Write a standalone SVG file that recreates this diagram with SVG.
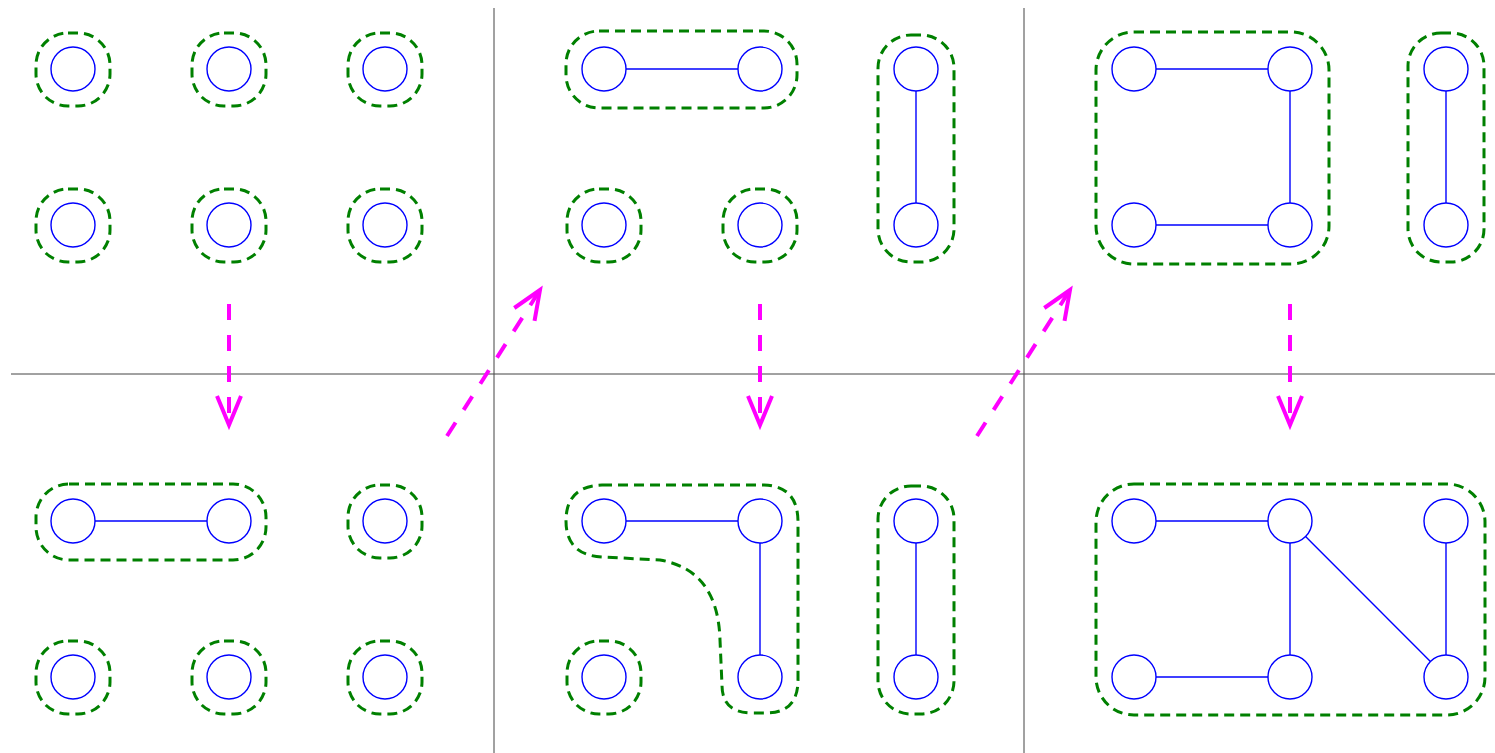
<svg xmlns="http://www.w3.org/2000/svg" width="1495" height="753" viewBox="0 0 1495 753">
<style>
.n{fill:#fff;stroke:#0000ff;stroke-width:1.4}
.e{stroke:#0000ff;stroke-width:1.4;fill:none}
.b{fill:none;stroke:#008000;stroke-width:3;stroke-dasharray:10 6}
.s{rx:33px}
.a{fill:none;stroke:#ff00ff;stroke-width:4;stroke-dasharray:16 15}
.g{stroke:#444;stroke-width:1}
</style>
<defs>
<marker id="ah" markerUnits="userSpaceOnUse" markerWidth="40" markerHeight="40" viewBox="-34 -20 40 40" refX="0" refY="0" orient="auto" overflow="visible">
<path d="M-29,-12 L0,0 L-29,12" fill="none" stroke="#ff00ff" stroke-width="4"/>
</marker>
</defs>
<g id="grid">
<line class="g" x1="11" y1="374" x2="1495" y2="374"/>
<line class="g" x1="494" y1="8" x2="494" y2="753"/>
<line class="g" x1="1024" y1="8" x2="1024" y2="753"/>
</g>
<g id="connectors">
<line class="e" x1="95" y1="521" x2="207" y2="521"/>
<line class="e" x1="626" y1="69" x2="738" y2="69"/>
<line class="e" x1="916" y1="91" x2="916" y2="203"/>
<line class="e" x1="626" y1="521" x2="738" y2="521"/>
<line class="e" x1="760" y1="543" x2="760" y2="655"/>
<line class="e" x1="916" y1="543" x2="916" y2="655"/>
<line class="e" x1="1156" y1="69" x2="1268" y2="69"/>
<line class="e" x1="1156" y1="225" x2="1268" y2="225"/>
<line class="e" x1="1290" y1="91" x2="1290" y2="203"/>
<line class="e" x1="1446" y1="91" x2="1446" y2="203"/>
<line class="e" x1="1156" y1="521" x2="1268" y2="521"/>
<line class="e" x1="1156" y1="677" x2="1268" y2="677"/>
<line class="e" x1="1290" y1="543" x2="1290" y2="655"/>
<line class="e" x1="1446" y1="543" x2="1446" y2="655"/>
<line class="e" x1="1305.6" y1="536.6" x2="1430.4" y2="661.4"/>
<line class="a" x1="229" y1="304" x2="229" y2="425" marker-end="url(#ah)"/>
<line class="a" x1="760" y1="304" x2="760" y2="425" marker-end="url(#ah)"/>
<line class="a" x1="1290" y1="304" x2="1290" y2="425" marker-end="url(#ah)"/>
<line class="a" x1="447" y1="436" x2="540" y2="290" marker-end="url(#ah)"/>
<line class="a" x1="977" y1="436" x2="1070" y2="290" marker-end="url(#ah)"/>
</g>
<g id="blobs">
<rect class="b" x="36" y="33" width="74" height="73" rx="32"/>
<rect class="b" x="192" y="33" width="74" height="73" rx="32"/>
<rect class="b" x="348" y="33" width="74" height="73" rx="32"/>
<rect class="b" x="36" y="189" width="74" height="73" rx="32"/>
<rect class="b" x="192" y="189" width="74" height="73" rx="32"/>
<rect class="b" x="348" y="189" width="74" height="73" rx="32"/>
<rect class="b" x="36" y="484" width="230" height="76" rx="33"/>
<rect class="b" x="348" y="485" width="74" height="73" rx="32"/>
<rect class="b" x="36" y="641" width="74" height="73" rx="32"/>
<rect class="b" x="192" y="641" width="74" height="73" rx="32"/>
<rect class="b" x="348" y="641" width="74" height="73" rx="32"/>
<rect class="b" x="566" y="31" width="231" height="77" rx="33"/>
<rect class="b" x="878" y="35" width="76" height="227" rx="33"/>
<rect class="b" x="567" y="189" width="74" height="73" rx="32"/>
<rect class="b" x="723" y="189" width="74" height="73" rx="32"/>
<path class="b" d="M602,485 L764,485 Q798,486 798,522 L798,680 Q798,713 766,713 L752,713 Q722,713 722,685 L720,640 Q718,570 660,560 L602,557 Q566,555 566,521 Q566,486 602,485 Z"/>
<rect class="b" x="878" y="486" width="76" height="228" rx="33"/>
<rect class="b" x="567" y="641" width="74" height="73" rx="32"/>
<rect class="b" x="1096" y="32" width="233" height="232" rx="38"/>
<rect class="b" x="1408" y="33" width="76" height="229" rx="33"/>
<rect class="b" x="1096" y="484" width="389" height="231" rx="38"/>
</g>
<g id="nodes">
<circle class="n" cx="73" cy="69" r="22"/>
<circle class="n" cx="229" cy="69" r="22"/>
<circle class="n" cx="385" cy="69" r="22"/>
<circle class="n" cx="73" cy="225" r="22"/>
<circle class="n" cx="229" cy="225" r="22"/>
<circle class="n" cx="385" cy="225" r="22"/>
<circle class="n" cx="73" cy="521" r="22"/>
<circle class="n" cx="229" cy="521" r="22"/>
<circle class="n" cx="385" cy="521" r="22"/>
<circle class="n" cx="73" cy="677" r="22"/>
<circle class="n" cx="229" cy="677" r="22"/>
<circle class="n" cx="385" cy="677" r="22"/>
<circle class="n" cx="604" cy="69" r="22"/>
<circle class="n" cx="760" cy="69" r="22"/>
<circle class="n" cx="916" cy="69" r="22"/>
<circle class="n" cx="604" cy="225" r="22"/>
<circle class="n" cx="760" cy="225" r="22"/>
<circle class="n" cx="916" cy="225" r="22"/>
<circle class="n" cx="604" cy="521" r="22"/>
<circle class="n" cx="760" cy="521" r="22"/>
<circle class="n" cx="916" cy="521" r="22"/>
<circle class="n" cx="604" cy="677" r="22"/>
<circle class="n" cx="760" cy="677" r="22"/>
<circle class="n" cx="916" cy="677" r="22"/>
<circle class="n" cx="1134" cy="69" r="22"/>
<circle class="n" cx="1290" cy="69" r="22"/>
<circle class="n" cx="1446" cy="69" r="22"/>
<circle class="n" cx="1134" cy="225" r="22"/>
<circle class="n" cx="1290" cy="225" r="22"/>
<circle class="n" cx="1446" cy="225" r="22"/>
<circle class="n" cx="1134" cy="521" r="22"/>
<circle class="n" cx="1290" cy="521" r="22"/>
<circle class="n" cx="1446" cy="521" r="22"/>
<circle class="n" cx="1134" cy="677" r="22"/>
<circle class="n" cx="1290" cy="677" r="22"/>
<circle class="n" cx="1446" cy="677" r="22"/>
</g>
</svg>
